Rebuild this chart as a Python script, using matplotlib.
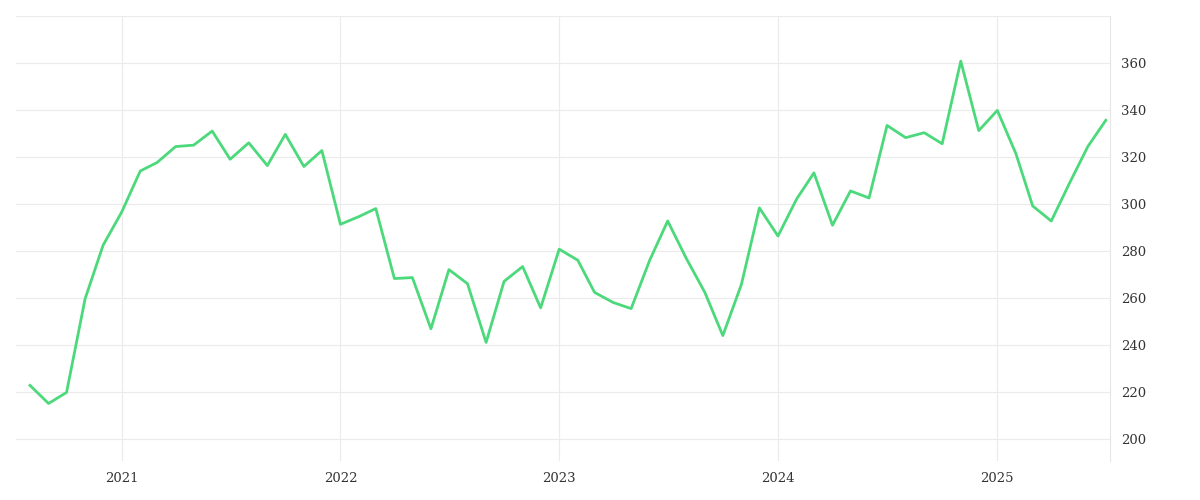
import matplotlib
matplotlib.use("Agg")
import matplotlib.pyplot as plt
import pandas as pd

dates = pd.date_range("2020-08-01", periods=60, freq="MS")
values = [222.7,215,219.7,259.6,282.4,296.5,314,317.6,324.4,325,331,319,326,316.3,329.6,315.9,322.7,
          291.3,294.6,298,268.2,268.6,246.8,272,266,241,267,273.3,255.7,
          280.7,276,262.3,258,255.4,276,292.7,276.8,262.3,243.9,265.7,298.3,
          286.3,302,313.2,290.9,305.5,302.5,333.4,328.2,330.3,325.6,360.8,331.2,
          339.8,321.4,299.1,292.7,308.6,324.4,335.6]
yticks = [200,220,240,260,280,300,320,340,360]
xtick_labels = ["2021","2022","2023","2024","2025"]

fig = plt.figure(figsize=(12,5), dpi=100)
ax = fig.add_axes([0.013, 0.078, 0.912, 0.89])
ax.plot(dates, values, color="#4cd97b", lw=2.0)
ax.set_xlim(pd.Timestamp("2020-07-08"), pd.Timestamp("2025-07-08"))
ax.set_ylim(190.5, 380)
ax.yaxis.tick_right()
ax.set_yticks(yticks + [380])
ax.set_yticklabels([str(v) for v in yticks] + [""])
xt = [pd.Timestamp(f"{y}-01-01") for y in xtick_labels]
ax.set_xticks(xt)
ax.set_xticklabels(xtick_labels)
for s in ["top","left","bottom"]:
    ax.spines[s].set_visible(False)
ax.spines["right"].set_color("#e6e6e6")
ax.grid(True, color="#ebebeb", lw=0.8)
ax.tick_params(length=0, labelsize=9.5, labelcolor="#333333", pad=8)
for t in ax.get_xticklabels()+ax.get_yticklabels():
    t.set_family("DejaVu Serif")
fig.savefig("out.png")
